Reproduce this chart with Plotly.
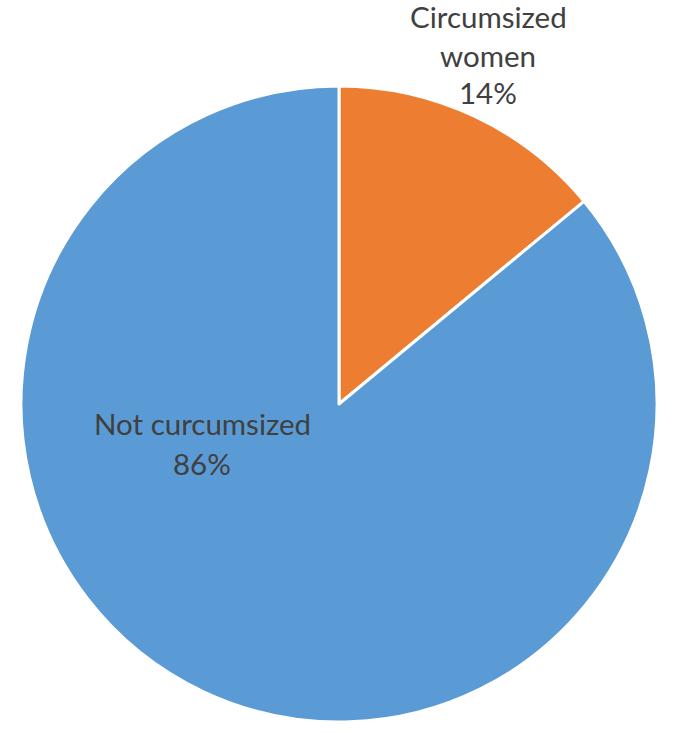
import plotly.graph_objects as go

# slice data
labels = ['Circumsized women', 'Not curcumsized']
values = [14, 86]
colors = ['#ED7D31', '#5B9BD5']

# label lines (name split as shown on the chart)
label_lines = [['Circumsized', 'women'], ['Not curcumsized']]

W, H = 685, 733
cx, cy, r = 339, 404, 318

fig = go.Figure(go.Pie(
    labels=labels,
    values=values,
    sort=False,
    direction='clockwise',
    rotation=0,
    textinfo='none',
    marker=dict(colors=colors, line=dict(color='white', width=3)),
    domain=dict(x=[(cx - r) / W, (cx + r) / W], y=[(H - cy - r) / H, (H - cy + r) / H]),
    showlegend=False,
))

# label anchor positions in pixels (center x, first line middle y, line step)
label_pos = [(488, 17, 38), (202, 423, 40)]

total = sum(values)
for lines, v, (px, py, step) in zip(label_lines, values, label_pos):
    texts = lines + ['%d%%' % round(100 * v / total)]
    for i, t in enumerate(texts):
        fig.add_annotation(
            x=px / W, y=1 - (py + i * step) / H,
            xref='paper', yref='paper',
            text=t, showarrow=False,
            xanchor='center', yanchor='middle',
            font=dict(family='Lato', size=29.5, color='#404040'),
        )

fig.update_layout(
    width=W, height=H,
    margin=dict(l=0, r=0, t=0, b=0),
    paper_bgcolor='white',
    plot_bgcolor='white',
)

# drop the default page margin so the figure sits at the window corner
fig.write_html('out.html', config={'displayModeBar': False},
               post_script="document.body.style.margin='0';")
